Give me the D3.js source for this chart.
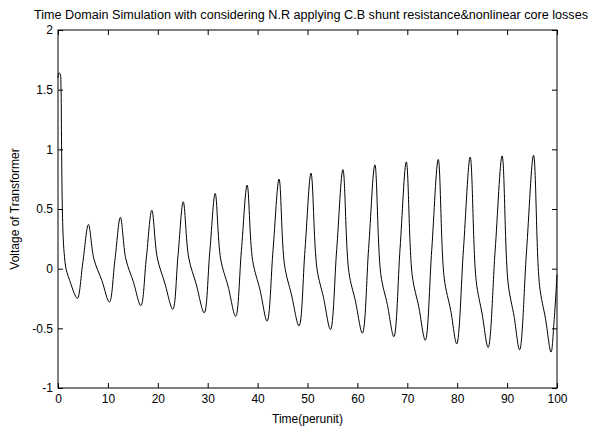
<!DOCTYPE html>
<html>
<head>
<meta charset="utf-8">
<script src="https://cdn.jsdelivr.net/npm/d3@7"></script>
<style>
  body { margin: 0; background: #fff; }
  svg { display: block; font-family: "Liberation Sans", Arial, sans-serif; }
  .tick text { font-size: 12px; fill: #000; }
</style>
</head>
<body>
<svg id="chart" width="595" height="430"></svg>
<script>
// tick values
var timeTicks = [0, 10, 20, 30, 40, 50, 60, 70, 80, 90, 100];
var voltTicks = [-1, -0.5, 0, 0.5, 1, 1.5, 2];

// simulated waveform (time in per unit, voltage)
var simTime = [
  0, 0.2, 0.45, 0.6, 0.7, 0.85, 1.05, 1.3, 1.6, 2.6, 3.4, 3.9,
  5.0, 6.1, 7.2, 8.8, 10.3,
  11.4, 12.5, 13.6, 15.1, 16.6,
  17.7, 18.8, 19.9, 21.4, 23.0,
  24.05, 25.1, 26.2, 27.7, 29.3,
  30.4, 31.5, 32.6, 34.1, 35.6,
  36.75, 37.9, 39.0, 40.5, 41.9,
  43.1, 44.3, 45.4, 46.8, 48.3,
  49.5, 50.7, 51.9, 53.2, 54.6,
  55.85, 57.1, 58.3, 59.6, 61.0,
  62.25, 63.5, 64.7, 66.0, 67.3,
  68.55, 69.8, 71.0, 72.3, 73.6,
  74.9, 76.2, 77.4, 78.7, 79.9,
  81.25, 82.6, 83.8, 85.0, 86.2,
  87.6, 89.0, 90.2, 91.4, 92.5,
  93.9, 95.3, 96.5, 97.7, 98.8,
  99.4, 100
];
var simVolt = [
  1.60, 1.64, 1.63, 1.52, 1.10, 0.55, 0.25, 0.10, 0.0, -0.13, -0.22, -0.25,
  0.06, 0.37, 0.08, -0.10, -0.28,
  0.07, 0.43, 0.08, -0.11, -0.31,
  0.09, 0.49, 0.09, -0.12, -0.34,
  0.11, 0.56, 0.09, -0.13, -0.37,
  0.13, 0.63, 0.08, -0.15, -0.40,
  0.15, 0.70, 0.07, -0.18, -0.44,
  0.16, 0.75, 0.03, -0.22, -0.48,
  0.16, 0.80, 0.0, -0.24, -0.51,
  0.16, 0.83, -0.03, -0.27, -0.54,
  0.17, 0.87, -0.05, -0.30, -0.57,
  0.17, 0.895, -0.06, -0.32, -0.60,
  0.16, 0.915, -0.08, -0.35, -0.63,
  0.16, 0.935, -0.10, -0.38, -0.66,
  0.15, 0.945, -0.12, -0.40, -0.68,
  0.15, 0.95, -0.14, -0.42, -0.70,
  -0.45, -0.05
];

var margin = {top: 30, right: 38, bottom: 42, left: 58};
var svg = d3.select('#chart');
var width = 595 - margin.left - margin.right;
var height = 430 - margin.top - margin.bottom;

var x = d3.scaleLinear().domain([0, 100]).range([0, width]);
var y = d3.scaleLinear().domain([-1, 2]).range([height, 0]);

var g = svg.append('g')
           .attr('transform', `translate(${margin.left},${margin.top})`);

// plain number labels like matlab: 2, 1.5, -0.5 ...
var plain = d => String(d);

// axes, matlab style: ticks inside, mirrored on top and right
function styleAxis(sel) {
  sel.select('.domain').remove();
  sel.selectAll('.tick line').attr('stroke', '#000');
}
g.append('g')
  .attr('transform', `translate(0,${height})`)
  .call(d3.axisBottom(x).tickValues(timeTicks).tickSizeInner(-5).tickSizeOuter(0).tickPadding(6).tickFormat(plain))
  .call(styleAxis);
g.append('g')
  .call(d3.axisTop(x).tickValues(timeTicks).tickSizeInner(-5).tickSizeOuter(0).tickFormat(''))
  .call(styleAxis);
g.append('g')
  .call(d3.axisLeft(y).tickValues(voltTicks).tickSizeInner(-5).tickSizeOuter(0).tickPadding(5).tickFormat(plain))
  .call(styleAxis);
g.append('g')
  .attr('transform', `translate(${width},0)`)
  .call(d3.axisRight(y).tickValues(voltTicks).tickSizeInner(-5).tickSizeOuter(0).tickFormat(''))
  .call(styleAxis);

g.append('rect')
  .attr('width', width)
  .attr('height', height)
  .attr('fill', 'none')
  .attr('stroke', '#000')
  .attr('stroke-width', 1);

var points = simTime.map((t, i) => [t, simVolt[i]]);
var line = d3.line()
             .x(d => x(d[0]))
             .y(d => y(d[1]))
             .curve(d3.curveCatmullRom.alpha(0.5));

g.append('path')
  .datum(points)
  .attr('d', line)
  .attr('fill', 'none')
  .attr('stroke', '#000')
  .attr('stroke-width', 1);

// labels
svg.append('text')
  .attr('x', 311)
  .attr('y', 19)
  .attr('text-anchor', 'middle')
  .attr('textLength', 554)
  .attr('lengthAdjust', 'spacingAndGlyphs')
  .style('font-size', '12px')
  .text('Time Domain Simulation with considering N.R applying C.B shunt resistance&nonlinear core losses');

svg.append('text')
  .attr('x', margin.left + width / 2)
  .attr('y', 423)
  .attr('text-anchor', 'middle')
  .style('font-size', '12px')
  .text('Time(perunit)');

svg.append('text')
  .attr('transform', `translate(19,${margin.top + height / 2}) rotate(-90)`)
  .attr('text-anchor', 'middle')
  .style('font-size', '12px')
  .text('Voltage of Transformer');
</script>
</body>
</html>
